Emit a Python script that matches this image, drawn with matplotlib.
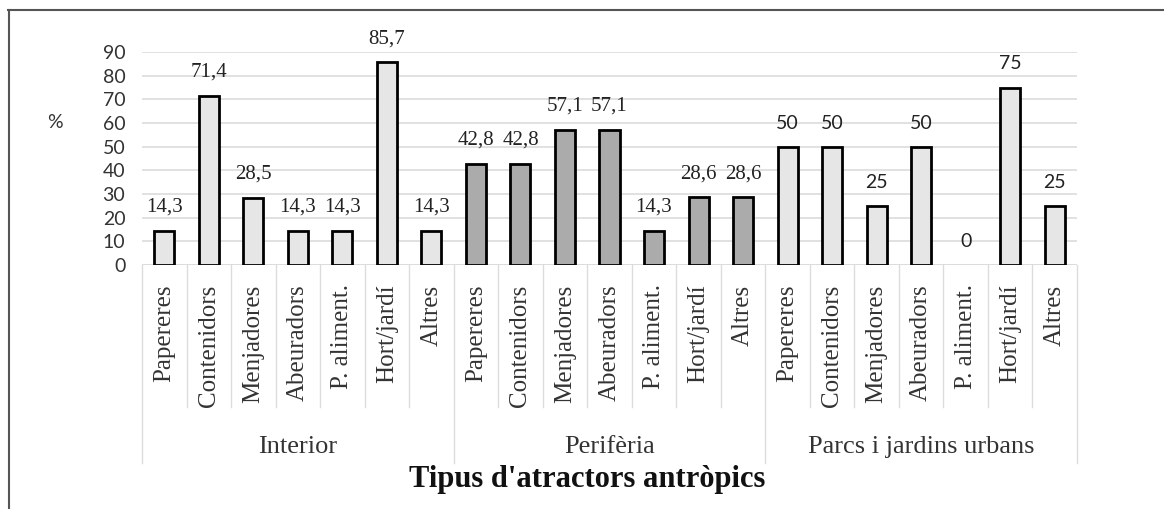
import numpy as np
import matplotlib.pyplot as plt
from matplotlib.lines import Line2D
from matplotlib.transforms import blended_transform_factory

# categories and percentages per zone
categories = ["Papereres", "Contenidors", "Menjadores", "Abeuradors",
              "P. aliment.", "Hort/jardí", "Altres"]
groups = ["Interior", "Perifèria", "Parcs i jardins urbans"]
interior = [14.3, 71.4, 28.5, 14.3, 14.3, 85.7, 14.3]
periferia = [42.8, 42.8, 57.1, 57.1, 14.3, 28.6, 28.6]
parcs = [50, 50, 25, 50, 0, 75, 25]
yticks = [0, 10, 20, 30, 40, 50, 60, 70, 80, 90]

serif = "Liberation Serif"
sans = "Lato"

fig = plt.figure(figsize=(11.64, 5.09), dpi=100)
ax = fig.add_axes([142 / 1164, 1 - 265 / 509, 935 / 1164, 213 / 509])

series = [interior, periferia, parcs]
fills = ["#e6e6e6", "#ababab", "#e6e6e6"]
label_fonts = [serif, serif, sans]

values = [v for s in series for v in s]
x = np.arange(len(values))
colors = [fills[g] for g in range(3) for _ in categories]
# a zero bar has no visible outline
widths = [0 if v == 0 else 2.0 for v in values]
ax.bar(x, values, width=0.45, color=colors, edgecolor="black",
       linewidth=widths, zorder=3)

# value labels above bars
for g, s in enumerate(series):
    for i, v in enumerate(s):
        xi = g * len(categories) + i
        ax.annotate(f"{v:g}".replace(".", ","), (xi, v),
                    xytext=(0, 17), textcoords="offset points",
                    ha="center", va="center", fontsize=15 if g < 2 else 14,
                    family=label_fonts[g], color="#222222")

ax.set_xlim(-0.5, len(values) - 0.5)
ax.set_ylim(0, 90)
ax.set_yticks(yticks)
ax.set_yticklabels([str(t) for t in yticks], family=sans, fontsize=14,
                   color="#333333")
ax.tick_params(axis="y", length=0, pad=12)
ax.set_xticks(x)
ax.set_xticklabels(categories * 3, rotation=90, family=serif,
                   fontsize=18, color="#333333")
ax.tick_params(axis="x", length=0, pad=14)

ax.grid(axis="y", color="#dcdcdc", linewidth=1.2, zorder=0)
for sp in ax.spines.values():
    sp.set_visible(False)
ax.axhline(0, color="#dcdcdc", linewidth=1.2, zorder=1)

# separators of the two-level category axis
trans = blended_transform_factory(ax.transData, fig.transFigure)
y0 = 1 - 265 / 509
for k in range(len(values) + 1):
    xb = k - 0.5
    y1 = 1 - (463 if k % len(categories) == 0 else 407) / 509
    ax.add_line(Line2D([xb, xb], [y0, y1], transform=trans, color="#dcdcdc",
                       linewidth=1, clip_on=False))

for g, name in enumerate(groups):
    xc = g * len(categories) + (len(categories) - 1) / 2
    ax.text(xc, 1 - 447 / 509, name, transform=trans, ha="center",
            va="center", family=serif, fontsize=19, color="#333333")

fig.text(55 / 1164, 1 - 122 / 509, "%", ha="center", va="center",
         family=sans, fontsize=14, color="#333333")
fig.text(587 / 1164, 1 - 480 / 509, "Tipus d'atractors antròpics",
         ha="center", va="center", family=serif, fontsize=22,
         fontweight="bold", color="#111111")

# outer frame (top and left edges)
fig.add_artist(Line2D([8 / 1164, 1], [1 - 10 / 509, 1 - 10 / 509],
                      transform=fig.transFigure, color="#555555", linewidth=1.5))
fig.add_artist(Line2D([9 / 1164, 9 / 1164], [0, 1 - 10 / 509],
                      transform=fig.transFigure, color="#555555", linewidth=1.5))

fig.savefig("out.png", dpi=100)
